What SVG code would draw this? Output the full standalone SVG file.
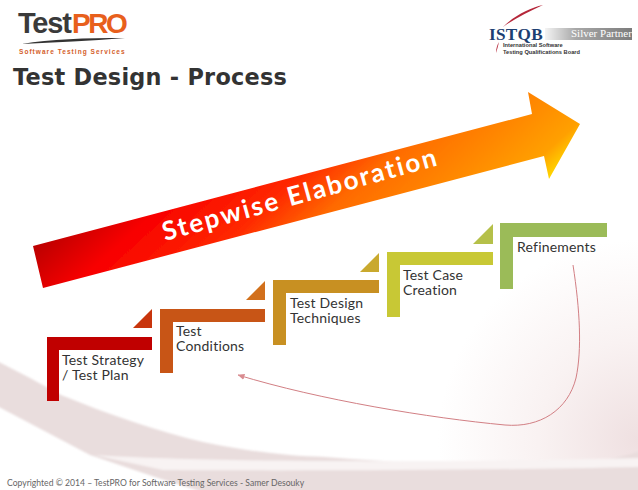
<svg xmlns="http://www.w3.org/2000/svg" width="638" height="490" viewBox="0 0 638 490">
<style>
.s{font-family:"Lato","Open Sans","Liberation Sans",sans-serif;font-size:14px;letter-spacing:.2px;fill:#333}
.h{font-family:"DejaVu Sans",sans-serif;font-weight:700}
.l{font-family:"Liberation Sans",Arial,sans-serif;font-weight:700}
.q{font-family:"Liberation Serif",serif}
</style>
<defs>
<linearGradient id="ar" gradientUnits="userSpaceOnUse" x1="60" y1="190" x2="360" y2="520">
<stop offset="0" stop-color="#a00000"/><stop offset=".08" stop-color="#c80000"/><stop offset=".18" stop-color="#f80000"/><stop offset=".34" stop-color="#ff2a00"/><stop offset=".44" stop-color="#ff6a00"/><stop offset=".58" stop-color="#ff8a00"/><stop offset=".67" stop-color="#ffa000"/><stop offset=".72" stop-color="#ffd800"/>
</linearGradient>
<radialGradient id="cr" gradientUnits="userSpaceOnUse" cx="638" cy="440" r="200">
<stop offset="0" stop-color="#efe0e1"/><stop offset=".5" stop-color="#f9f2f2"/><stop offset="1" stop-color="#fff"/>
</radialGradient>
<linearGradient id="sv" x1="0" x2="1" y1="0" y2="0"><stop offset="0" stop-color="#f4f4f4"/><stop offset=".35" stop-color="#a8a8a8"/><stop offset="1" stop-color="#7c7c7c"/></linearGradient>
<filter id="b" x="-5%" y="-5%" width="110%" height="110%"><feGaussianBlur stdDeviation=".5"/></filter>
<filter id="bb" x="-5%" y="-5%" width="110%" height="110%"><feGaussianBlur stdDeviation=".8"/></filter>
<marker id="m" markerWidth="7" markerHeight="6" refX="6.500" refY="3" orient="auto" markerUnits="userSpaceOnUse"><path d="M0,0 L7,3 L0,6z" fill="#d98c90"/></marker>
</defs>

<rect width="638" height="490" fill="#fff"/>
<rect width="638" height="490" fill="url(#cr)"/>
<g filter="url(#bb)">
<path d="M-5,360 L30,378 L61,395 C110,415 160,432 203,442 C250,452 290,456 325,457 C400,463 470,465 529,465 C570,465 610,462 643,450 L643,495 L212,495 L155,477 L90,455 L-5,405Z" fill="#e9dddd"/>
<path d="M94,455 C200,462 420,463 643,458 L643,467 C500,470 300,471 163,470Z" fill="#f8f3f3"/>
</g>

<g id="logo-testpro">
<text x="18" y="33" class="l" font-size="29" letter-spacing="-1.200" fill="#3a3a3a">Test</text>
<text x="72" y="33" class="l" font-size="28" letter-spacing="-2.400" fill="#e8601c">PRO</text>
<path d="M22,44 C50,39 85,38 125,38 C90,41 55,42 22,44Z" fill="#333"/>
<text x="19" y="53.500" class="l" font-size="6.500" letter-spacing="1.050" fill="#d4602a">Software Testing Services</text>
</g>

<text id="title" x="13" y="85" class="h" font-size="22.400" letter-spacing=".25" fill="#333">Test Design - Process</text>

<g id="logo-istqb">
<path d="M503,27 C515,15 530,8 543,5 C528,12 514,19 503,27Z" fill="#b5273a"/>
<path d="M496,53 C496,49 497,45 499,42 C498,46 497,50 496,53Z" fill="#b5273a"/>
<rect x="545" y="28" width="87" height="12" fill="url(#sv)"/>
<text x="489" y="39.500" class="q" font-weight="700" font-size="17.200" letter-spacing=".3" fill="#1d3f72">ISTQB</text>
<text x="571" y="37" class="q" font-size="11" fill="#fff">Silver Partner</text>
<text x="503" y="46.500" class="l" font-size="5.700" fill="#333">International Software</text>
<text x="503" y="53.500" class="l" font-size="5.700" fill="#333">Testing Qualifications Board</text>
</g>

<g id="stepwise-arrow">
<path d="M33,246 L532,114 L528,92 L580,124 L549,179 L544,156 L43,288Z" fill="url(#ar)" filter="url(#b)"/>
<text transform="translate(165,241) rotate(-15.500)" class="s" style="font-size:26px;font-weight:700;letter-spacing:2.100px;fill:#fff">Stepwise Elaboration</text>
</g>

<g id="step-1" filter="url(#b)">
<path d="M133,328 L152,309 L152,328Z" fill="#c8340c"/>
<path d="M47,337 H152 V350 H59 V401 H47Z" fill="#c00000"/>
</g>
<text class="s" x="62" y="365">Test Strategy</text><text class="s" x="62" y="380">/ Test Plan</text>

<g id="step-2" filter="url(#b)">
<path d="M246,300 L265,281 L265,300Z" fill="#d2701c"/>
<path d="M160,309 H265 V322 H173 V373 H160Z" fill="#c85412"/>
</g>
<text class="s" x="176" y="336">Test</text><text class="s" x="176" y="351">Conditions</text>

<g id="step-3" filter="url(#b)">
<path d="M360,272 L379,253 L379,272Z" fill="#c9a92e"/>
<path d="M273,280 H379 V293 H286 V345 H273Z" fill="#c89020"/>
</g>
<text class="s" x="290" y="308">Test Design</text><text class="s" x="290" y="323">Techniques</text>

<g id="step-4" filter="url(#b)">
<path d="M473,244 L493,224 L493,244Z" fill="#b5c04a"/>
<path d="M387,252 H493 V265 H400 V317 H387Z" fill="#c8c834"/>
</g>
<text class="s" x="403" y="280">Test Case</text><text class="s" x="403" y="295">Creation</text>

<g id="step-5" filter="url(#b)">
<path d="M500,223 H607 V237 H513 V289 H500Z" fill="#9bbb59"/>
</g>
<text class="s" x="517" y="252">Refinements</text>

<g id="connectors">
<path d="M573,265 C580,310 582,350 576,378 C568,410 540,428 505,425 C430,418 320,400 238,375" fill="none" stroke="#d27f84" stroke-width="1" marker-end="url(#m)"/>
</g>

<text id="footer" x="7" y="486" font-family="Lato,'Open Sans',sans-serif" font-size="8.600" fill="#666">Copyrighted © 2014 – TestPRO for Software Testing Services - Samer Desouky</text>
</svg>
